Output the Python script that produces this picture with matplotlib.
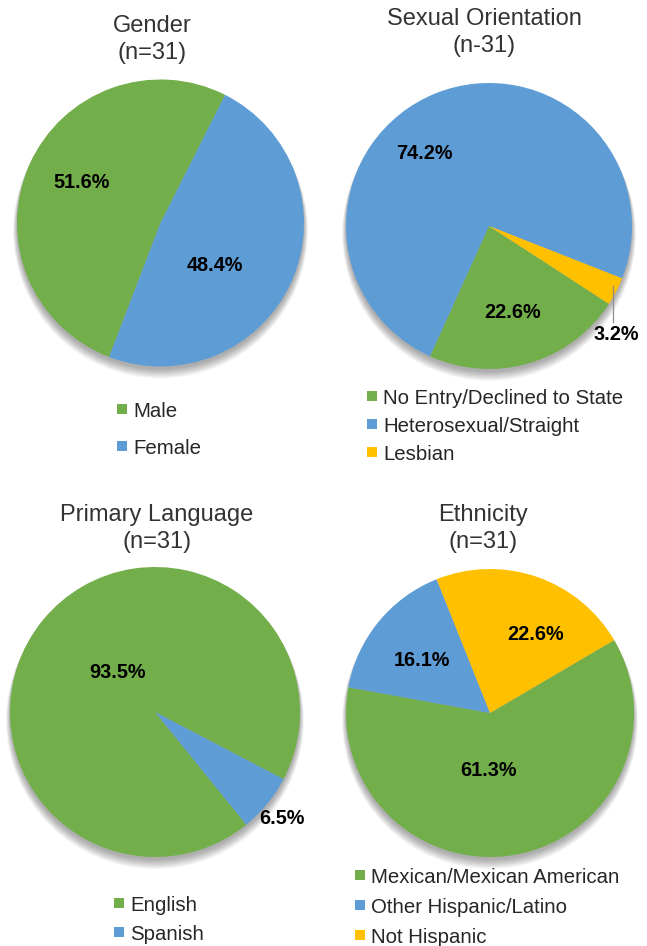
import numpy as np
import matplotlib.pyplot as plt
from matplotlib.patches import Circle, Rectangle

plt.rcParams['font.family'] = ['Liberation Sans', 'DejaVu Sans']

# data
gender_labels = ['Male', 'Female']
gender_values = [51.6, 48.4]

orientation_labels = ['No Entry/Declined to State', 'Heterosexual/Straight', 'Lesbian']
orientation_values = [22.6, 74.2, 3.2]

language_labels = ['English', 'Spanish']
language_values = [93.5, 6.5]

ethnicity_labels = ['Mexican/Mexican American', 'Other Hispanic/Latino', 'Not Hispanic']
ethnicity_values = [61.3, 16.1, 22.6]

GREEN = '#72AE4A'
BLUE = '#5E9CD6'
YELLOW = '#FFC000'
TEXT = '#333333'

W, H = 647, 946
fig = plt.figure(figsize=(W / 100, H / 100), dpi=100)


def fx(x):
    return x / W


def fy(y):
    return 1 - y / H


def draw_pie(values, labels, colors, title, center, radius, start, label_pos,
             title_x, title_y, legend_x, legend_y, leader=None):
    cx, cy = center
    ax = fig.add_axes([fx(cx - radius), fy(cy + radius), 2 * radius / W, 2 * radius / H])

    # soft shadow, mostly below the pie
    for i in range(10):
        ax.add_patch(Circle((0.0, -0.02 - 0.004 * i), 1.0 + 0.003 * i, color='black',
                            alpha=0.035, lw=0, zorder=0, clip_on=False))

    wedges, _ = ax.pie(values, colors=colors, startangle=90 - start,
                       counterclock=False, radius=1,
                       wedgeprops=dict(linewidth=0))
    for w in wedges:
        w.set_zorder(2)
    ax.set_xlim(-1, 1)
    ax.set_ylim(-1, 1)
    ax.set_aspect('equal')
    ax.axis('off')

    for v, (r, ang) in zip(values, label_pos):
        a = np.deg2rad(ang)
        ax.text(r * np.cos(a), r * np.sin(a), f'{v:.1f}%', ha='center', va='center',
                fontsize=14.3, fontweight='bold', color='black', zorder=5)

    if leader is not None:
        ax.plot([leader[0], leader[0]], [leader[1], leader[2]], color='#8C8C8C',
                lw=0.9, clip_on=False, zorder=5)

    # title, two lines
    fig.text(fx(title_x), fy(title_y[0]), title, ha='center', va='baseline',
             fontsize=17, color=TEXT)
    fig.text(fx(title_x), fy(title_y[1]), '(n-31)' if 'Sexual' in title else '(n=31)',
             ha='center', va='baseline', fontsize=17, color=TEXT)

    # legend
    for i, (lab, col) in enumerate(zip(labels, colors)):
        y = legend_y[i]
        fig.patches.append(Rectangle((fx(legend_x), fy(y + 5)), 10 / W, 10 / H,
                                     transform=fig.transFigure, facecolor=col,
                                     edgecolor='none'))
        fig.text(fx(legend_x + 16), fy(y), lab, ha='left', va='center_baseline',
                 fontsize=14.7, color='#262626')


draw_pie(gender_values, gender_labels, [GREEN, BLUE], 'Gender',
         center=(160.5, 223), radius=143.5, start=201,
         label_pos=[(0.62, 153), (0.48, -37.6)],
         title_x=152, title_y=(32, 59),
         legend_x=117, legend_y=[409, 446])

draw_pie(orientation_values, orientation_labels, [GREEN, BLUE, YELLOW], 'Sexual Orientation',
         center=(489, 226), radius=143, start=123,
         label_pos=[(0.63, -74.6), (0.68, 132), (1.17, -40.6)],
         title_x=484, title_y=(25, 52),
         legend_x=367, legend_y=[396, 424, 452],
         leader=(0.867, -0.42, -0.67))

draw_pie(language_values, language_labels, [GREEN, BLUE], 'Primary Language',
         center=(155, 712), radius=145, start=141,
         label_pos=[(0.38, 133.5), (1.14, -39.9)],
         title_x=157, title_y=(521, 548),
         legend_x=114, legend_y=[903, 932])

draw_pie(ethnicity_values, ethnicity_labels, [GREEN, BLUE, YELLOW], 'Ethnicity',
         center=(490, 713), radius=144, start=59.6,
         label_pos=[(0.40, -91), (0.60, 142.5), (0.63, 60)],
         title_x=483, title_y=(521, 548),
         legend_x=355, legend_y=[875, 905, 935])

fig.savefig('out.png', dpi=100, facecolor='white')
